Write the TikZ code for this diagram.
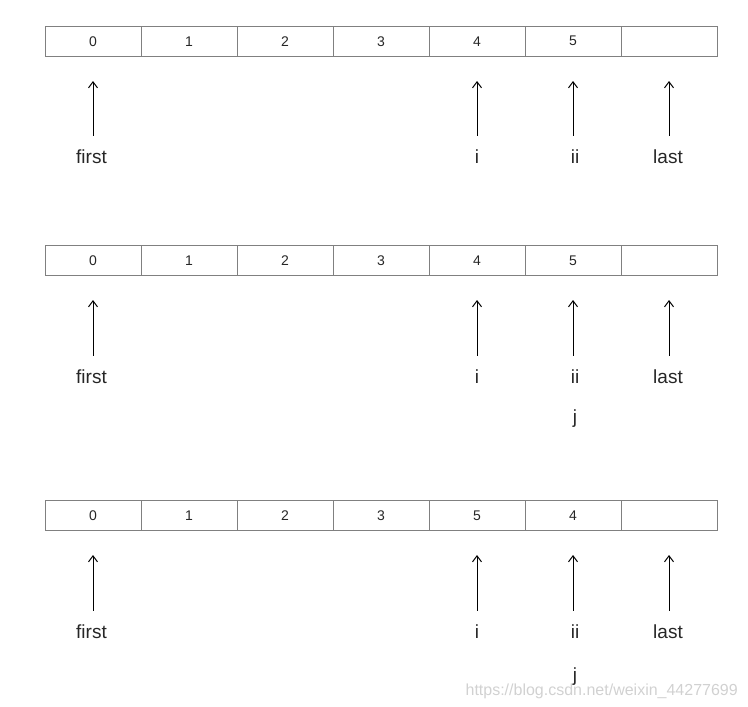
\documentclass[tikz,border=0pt]{standalone}
\usepackage{fontspec}
\setmainfont{Liberation Sans}
\usetikzlibrary{arrows.meta,positioning,calc}

\begin{document}
\begin{tikzpicture}[x=1pt,y=-1pt,
cellnode/.style={draw=black!50, line width=1pt, minimum width=96pt, minimum height=30.5pt, inner sep=0pt, font=\fontsize{14}{14}\selectfont, text=black!85},
varnode/.style={anchor=base, inner sep=0pt, text height=13pt, text depth=4pt, font=\fontsize{19}{19}\selectfont, text=black!85},
pointer/.style={-{Straight Barb[length=6pt,width=9pt]}, line width=1pt, shorten <=14pt, shorten >=24pt},
]
\useasboundingbox (0,0) rectangle (748,707);

% arrays
\foreach \r/\top/\vals in {1/26/{0,1,2,3,4,5,{}}, 2/245/{0,1,2,3,4,5,{}}, 3/500/{0,1,2,3,5,4,{}}}{
  \foreach \v [count=\k from 0] in \vals
    \node[cellnode] (c\r-\k) at (93+96*\k, \top+15.25) {\v};
}

% pointers
\foreach \r/\base in {1/163, 2/383, 3/638}{
  \foreach \name/\x/\k in {first/91.5/0, i/477/4, ii/575/5, last/668/6}{
    \node[varnode] (l\r-\name) at (\x, \base) {\name};
    \draw[pointer] (l\r-\name.north -| c\r-\k) -- (c\r-\k.south);
  }
}
\node[varnode] (l2-j) at (575, 423) {j};
\node[varnode] (l3-j) at (575, 681) {j};

\node[anchor=base east, inner sep=0pt, font=\fontsize{16}{16}\selectfont, text=black!18] (mark) at (738, 695) {https://blog.csdn.net/weixin\_44277699};

%\draw[red] (0,0) -- (748,707);
\end{tikzpicture}
\end{document}
